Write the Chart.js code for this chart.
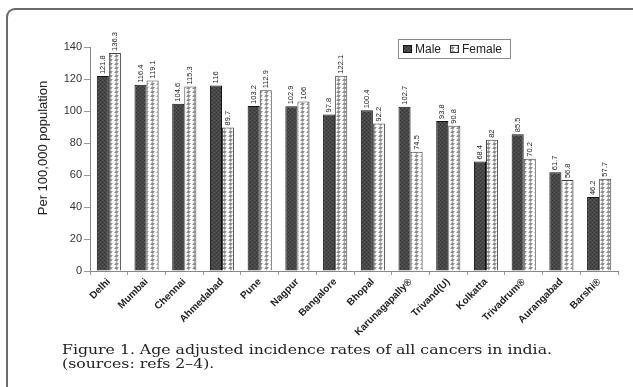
<!DOCTYPE html>
<html>
<head>
<meta charset="utf-8">
<script src="https://cdn.jsdelivr.net/npm/chart.js@4.4.1/dist/chart.umd.min.js"></script>
<style>
  html, body { margin:0; padding:0; background:#fff; }
  #wrap { position:relative; width:633px; height:387px; overflow:hidden; background:#fff; }
  #frame { position:absolute; left:6px; top:8px; width:660px; height:420px;
           border-left:2px solid #6a6a6a; border-top:2px solid #6a6a6a; border-top-left-radius:9px; }
  #cv { position:absolute; left:0; top:0; }
  #caption { position:absolute; left:62px; top:343px; font-family:"DejaVu Serif", serif; font-size:12px;
             line-height:14px; color:#222; transform-origin:0 0; white-space:nowrap; }
</style>
</head>
<body>
<div id="wrap">
  <div id="frame"></div>
  <canvas id="cv" width="633" height="387"></canvas>
  <div id="caption"><div id="cap1">Figure 1. Age adjusted incidence rates of all cancers in india.</div><div>(sources: refs 2–4).</div></div>
</div>
<script>
const cities = ["Delhi","Mumbai","Chennai","Ahmedabad","Pune","Nagpur","Bangalore","Bhopal","Karunagapally®","Trivand(U)","Kolkatta","Trivadrum®","Aurangabad","Barshi®"];
const maleRates = [121.8,116.4,104.6,116,103.2,102.9,97.8,100.4,102.7,93.8,68.4,85.5,61.7,46.2];
const femaleRates = [136.3,119.1,115.3,89.7,112.9,106,122.1,92.2,74.5,90.8,82,70.2,56.8,57.7];
const yTicks = [0,20,40,60,80,100,120,140];
const seriesNames = ["Male","Female"];
const yTitle = "Per 100,000 population";

const canvas = document.getElementById('cv');
const ctx = canvas.getContext('2d');

function makeFemalePattern() {
  const t = document.createElement('canvas');
  t.width = 6; t.height = 4;
  const g = t.getContext('2d');
  g.fillStyle = '#ffffff'; g.fillRect(0,0,6,4);
  g.strokeStyle = '#8a8a8a'; g.lineWidth = 1;
  g.beginPath(); g.moveTo(0.5,0.5); g.lineTo(3.5,0.5); g.lineTo(1.5,3.5); g.lineTo(4.5,3.5); g.stroke();
  return ctx.createPattern(t, 'repeat');
}
function makeMalePattern() {
  const t = document.createElement('canvas');
  t.width = 4; t.height = 4;
  const g = t.getContext('2d');
  g.fillStyle = '#474747'; g.fillRect(0,0,4,4);
  g.fillStyle = '#333333'; g.fillRect(0,0,1,1); g.fillRect(2,2,1,1);
  g.fillStyle = '#5a5a5a'; g.fillRect(2,0,1,1); g.fillRect(0,2,1,1);
  return ctx.createPattern(t, 'repeat');
}
const femaleFill = makeFemalePattern();
const maleFill = makeMalePattern();

const valueLabels = {
  id: 'valueLabels',
  afterDatasetsDraw(chart) {
    const c = chart.ctx;
    c.save();
    c.font = '7.5px "Liberation Sans", Arial, sans-serif';
    c.fillStyle = '#222';
    chart.data.datasets.forEach((ds, di) => {
      const meta = chart.getDatasetMeta(di);
      meta.data.forEach((bar, i) => {
        c.save();
        c.translate(bar.x, bar.y - 2);
        c.rotate(-Math.PI/2);
        c.textAlign = 'left';
        c.textBaseline = 'middle';
        c.fillText(String(ds.data[i]), 0, 0);
        c.restore();
      });
    });
    c.restore();
  },
  afterDraw(chart) {
    const c = chart.ctx;
    c.save();
    c.translate(43, 148);
    c.rotate(-Math.PI/2);
    c.font = '13px "Liberation Sans", Arial, sans-serif';
    c.fillStyle = '#222';
    c.textAlign = 'center'; c.textBaseline = 'middle';
    c.fillText(yTitle, 0, 0);
    c.restore();
    c.save();
    c.strokeStyle = '#8a8a8a'; c.lineWidth = 1;
    c.strokeRect(398.5, 39.5, 112, 19);
    c.fillStyle = maleFill; c.fillRect(403, 45, 9, 8);
    c.strokeStyle = '#111'; c.strokeRect(403.5, 45.5, 8, 7);
    c.fillStyle = femaleFill; c.fillRect(450, 45, 9, 8);
    c.strokeStyle = '#333'; c.strokeRect(450.5, 45.5, 8, 7);
    c.font = '12px "Liberation Sans", Arial, sans-serif';
    c.fillStyle = '#222'; c.textAlign = 'left'; c.textBaseline = 'middle';
    c.fillText(seriesNames[0], 415, 50);
    c.fillText(seriesNames[1], 462, 50);
    c.restore();
  }
};

new Chart(ctx, {
  type: 'bar',
  data: {
    labels: cities,
    datasets: [
      { label: seriesNames[0], data: maleRates, backgroundColor: maleFill, borderColor: '#111', borderWidth: 1,
        categoryPercentage: 0.64, barPercentage: 1.0 },
      { label: seriesNames[1], data: femaleRates, backgroundColor: femaleFill, borderColor: '#444', borderWidth: 1,
        categoryPercentage: 0.64, barPercentage: 1.0 }
    ]
  },
  options: {
    responsive: false,
    animation: false,
    devicePixelRatio: 1,
    layout: { padding: { left: 0, top: 47, right: 15, bottom: 0 } },
    plugins: { legend: { display: false }, tooltip: { enabled: false } },
    scales: {
      x: {
        afterFit(s) { s.height = 116; },
        grid: { display: true, drawOnChartArea: false, drawTicks: true, tickLength: 4, color: '#999', offset: true },
        border: { display: true, color: '#888', width: 1 },
        ticks: { minRotation: 45, maxRotation: 45, autoSkip: false, padding: 1, color: '#222',
                 font: { family: '"Liberation Sans", Arial, sans-serif', size: 10, weight: 'bold' } }
      },
      y: {
        min: 0, max: 140,
        afterFit(s) { s.width = 90; },
        afterBuildTicks(s) { s.ticks = yTicks.map(v => ({ value: v })); },
        grid: { display: true, drawOnChartArea: false, drawTicks: true, tickLength: 6, color: '#999' },
        border: { display: true, color: '#888', width: 1 },
        ticks: { padding: 2, color: '#333', font: { family: '"Liberation Sans", Arial, sans-serif', size: 11 } }
      }
    }
  },
  plugins: [valueLabels]
});

const cap1 = document.getElementById('cap1');
const w = cap1.getBoundingClientRect().width;
document.getElementById('caption').style.transform = 'scaleX(' + (490 / w) + ')';
</script>
</body>
</html>
